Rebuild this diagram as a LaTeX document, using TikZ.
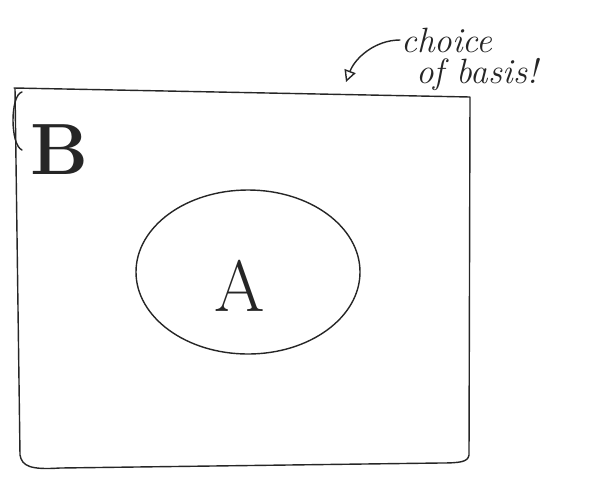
\documentclass[tikz,border=0pt]{standalone}
\usetikzlibrary{arrows.meta,shapes.geometric}
\begin{document}
\begin{tikzpicture}[x=0.03cm,y=-0.03cm,
  pen/.style={line width=1.2pt,black!85,line cap=round,line join=round},
  hand/.style={font=\itshape\fontsize{30}{32}\selectfont,black!85,inner sep=1pt}]
\useasboundingbox (0,0) rectangle (597,494);
% set B (rectangle drawn by hand)
\draw[pen] (14,88) -- (470,97) -- (469,455) .. controls (468,462) and (460,463) .. (440,463)
  -- (60,468) .. controls (30,470) and (22,466) .. (20,455) -- (15,88);
\draw[pen] (22,92) .. controls (10,95) and (10,145) .. (22,150);
% set A
\node[pen,draw,ellipse,minimum width=6.72cm,minimum height=4.92cm,inner sep=0pt] (ea) at (248,272) {};
\node[font=\fontsize{62}{64}\selectfont,black!85] (a) at (240,286) {A};
\node[font=\bfseries\fontsize{62}{64}\selectfont,black!85] (b) at (60,150) {B};
% annotation
\node[hand,anchor=west] (t1) at (400,40) {choice};
\node[hand,anchor=west] (t2) at (415,75) {of basis!};
\coordinate (tip) at (346,82);
\draw[pen,-{Triangle[open,length=10pt,width=10pt]}] (t1.west) .. controls (375,40) and (355,58) .. (tip);
\end{tikzpicture}
\end{document}
